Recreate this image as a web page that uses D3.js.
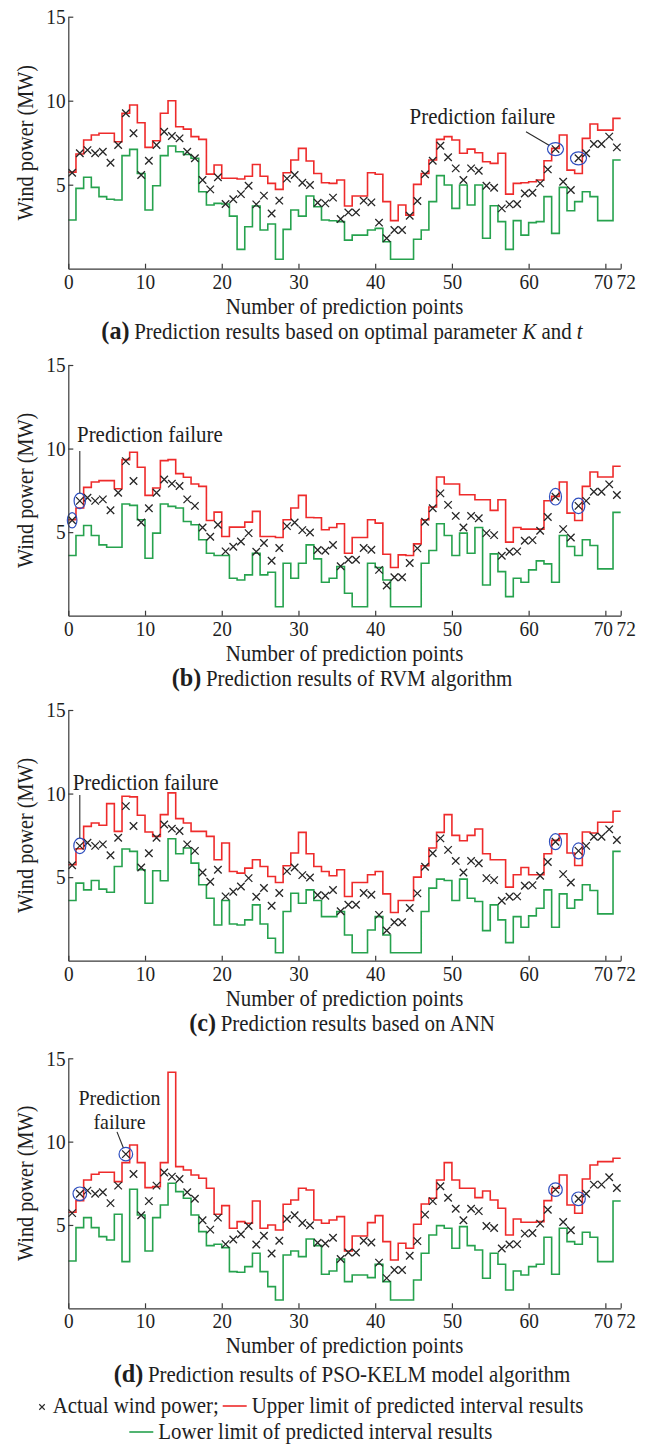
<!DOCTYPE html>
<html>
<head>
<meta charset="utf-8">
<script src="https://cdn.jsdelivr.net/npm/d3@7"></script>
<style>
  body { margin: 0; background: #fff; }
  svg { display: block; }
  text { font-family: "Liberation Serif", "Times New Roman", serif; fill: #1e1e1e; }
</style>
</head>
<body>
<svg id="chart" width="648" height="1445"></svg>
<script>
// actual wind power, one value per prediction point (same in all four panels)
const actualPower = [
  5.71, 6.87, 7.06, 6.87, 6.96, 6.31, 7.36, 9.25, 8.06, 5.58,
  6.43, 7.36, 8.15, 7.90, 7.76, 6.96, 6.57, 5.28, 4.72, 5.44,
  3.85, 4.13, 4.44, 4.94, 3.83, 4.35, 3.29, 4.05, 5.36, 5.58,
  5.12, 4.98, 3.93, 3.89, 4.23, 2.96, 3.35, 3.35, 4.05, 3.95,
  2.74, 1.81, 2.30, 2.30, 3.15, 4.03, 5.62, 6.43, 7.32, 6.63,
  5.97, 5.28, 5.97, 5.83, 4.94, 4.82, 3.59, 3.83, 3.85, 4.48,
  4.52, 5.08, 5.91, 7.12, 5.18, 4.68, 6.57, 6.87, 7.42, 7.42,
  7.86, 7.22
]

// (a) optimal K and t
const upperA = [
  5.75, 6.83, 7.66, 7.96, 8.06, 8.06, 7.56, 9.25, 9.74, 8.69,
  7.22, 7.62, 9.25, 10.0, 8.45, 8.31, 7.86, 7.70, 5.63, 6.17,
  5.38, 5.38, 5.34, 5.50, 6.20, 5.50, 5.08, 4.72, 5.71, 6.47,
  7.16, 6.41, 5.67, 5.12, 5.08, 5.28, 3.73, 4.33, 4.33, 5.71,
  5.62, 3.99, 2.86, 3.79, 3.19, 5.02, 5.67, 6.47, 7.70, 7.86,
  7.66, 6.87, 7.12, 6.90, 6.37, 6.27, 6.87, 4.44, 5.08, 5.12,
  5.18, 5.28, 6.43, 7.16, 7.96, 5.87, 5.67, 7.76, 8.61, 8.25,
  8.25, 8.95
]
const lowerA = [
  2.90, 4.78, 5.44, 4.84, 4.29, 4.13, 4.09, 6.73, 7.10, 5.67,
  3.49, 4.94, 6.73, 7.30, 6.96, 6.80, 6.57, 4.58, 3.79, 3.89,
  3.85, 3.13, 1.15, 2.50, 3.73, 2.30, 2.66, 0.56, 2.34, 3.49,
  3.13, 4.33, 3.69, 2.90, 2.85, 2.80, 1.70, 2.00, 2.00, 2.30,
  2.40, 1.60, 0.56, 0.56, 0.56, 1.75, 2.30, 3.99, 5.54, 4.98,
  3.59, 4.98, 3.79, 4.98, 1.81, 3.75, 2.80, 1.15, 2.86, 2.00,
  2.74, 2.80, 4.29, 2.10, 4.84, 3.45, 3.99, 4.58, 4.29, 2.86,
  2.86, 6.47
]

// (b) RVM
const upperB = [
  5.74, 6.44, 7.68, 8.00, 8.08, 8.08, 7.60, 9.34, 9.78, 8.88,
  7.20, 7.64, 9.28, 9.34, 8.50, 8.28, 7.88, 7.74, 5.70, 6.20,
  4.74, 5.30, 5.30, 5.60, 6.24, 4.74, 4.74, 4.68, 5.74, 6.44,
  7.20, 5.88, 5.86, 5.14, 5.28, 5.50, 3.74, 4.68, 4.68, 5.74,
  5.54, 3.68, 2.88, 3.64, 3.60, 4.30, 5.74, 6.50, 8.30, 7.88,
  7.88, 7.24, 7.24, 6.94, 6.94, 6.30, 6.94, 4.40, 5.28, 5.18,
  5.18, 5.18, 6.88, 7.14, 8.00, 6.14, 5.70, 7.74, 8.60, 8.30,
  8.30, 8.94
]
const lowerB = [
  3.60, 4.80, 5.40, 4.80, 4.24, 4.10, 4.10, 6.68, 6.60, 5.74,
  3.44, 4.94, 6.68, 6.54, 6.44, 5.64, 5.44, 4.54, 3.74, 3.60,
  3.60, 2.24, 2.14, 2.44, 3.74, 2.44, 2.60, 0.54, 3.14, 2.24,
  3.14, 4.24, 3.40, 2.00, 2.24, 2.94, 1.34, 0.54, 0.54, 3.14,
  2.88, 2.14, 0.54, 0.54, 0.54, 0.54, 3.14, 3.90, 5.50, 4.80,
  3.60, 4.94, 3.74, 5.28, 1.84, 3.70, 2.64, 1.14, 2.24, 2.00,
  2.74, 3.28, 3.10, 2.00, 4.80, 4.14, 3.60, 4.54, 4.20, 2.80,
  2.80, 6.18
]

// (c) ANN
const upperC = [
  5.74, 6.70, 8.04, 8.24, 8.10, 9.40, 7.74, 9.84, 9.80, 8.70,
  7.70, 7.44, 8.74, 10.04, 8.50, 8.24, 7.74, 7.74, 7.44, 6.04,
  7.04, 5.34, 5.24, 5.54, 6.04, 5.64, 5.04, 4.68, 5.68, 6.44,
  7.68, 6.40, 5.64, 5.34, 5.08, 5.44, 3.84, 4.68, 4.68, 5.14,
  5.34, 4.00, 2.88, 3.60, 3.60, 5.00, 5.68, 6.74, 7.68, 8.74,
  7.50, 7.18, 7.50, 7.88, 6.40, 6.04, 6.04, 4.40, 5.14, 5.58,
  5.14, 5.14, 6.40, 7.20, 7.60, 6.44, 5.70, 7.70, 7.64, 8.28,
  8.28, 8.94
]
const lowerC = [
  3.60, 4.64, 4.24, 4.80, 4.28, 4.10, 5.64, 6.68, 6.54, 5.44,
  3.44, 5.38, 4.78, 7.30, 6.40, 6.74, 5.84, 4.54, 3.74, 2.14,
  3.60, 2.20, 2.14, 2.44, 3.34, 2.20, 1.34, 0.48, 2.94, 4.04,
  3.44, 4.24, 3.60, 2.64, 2.64, 2.94, 1.54, 0.48, 0.48, 1.84,
  2.64, 1.54, 0.48, 0.48, 0.48, 0.48, 2.94, 4.34, 4.88, 4.80,
  3.60, 4.88, 3.74, 3.54, 1.80, 3.34, 2.44, 1.08, 2.64, 2.00,
  2.68, 3.14, 4.24, 2.00, 4.00, 3.14, 3.64, 4.54, 4.20, 2.80,
  2.80, 6.54
]

// (d) PSO-KELM
const upperD = [
  5.76, 6.46, 7.70, 8.04, 8.16, 8.16, 7.60, 8.74, 9.80, 8.74,
  7.24, 7.30, 8.74, 14.16, 8.50, 8.30, 8.00, 7.80, 7.20, 5.64,
  6.16, 4.80, 5.20, 5.10, 6.44, 4.80, 5.00, 4.70, 6.24, 6.50,
  7.20, 7.10, 5.30, 5.10, 5.30, 5.50, 3.44, 4.34, 4.34, 5.14,
  5.56, 4.00, 2.90, 3.90, 3.60, 5.04, 6.26, 6.60, 7.70, 8.74,
  7.70, 7.20, 7.20, 6.64, 7.04, 6.50, 6.00, 4.40, 5.36, 5.16,
  5.16, 5.20, 6.46, 7.20, 8.00, 6.20, 5.70, 7.76, 8.60, 8.80,
  8.80, 9.00
]
const lowerD = [
  2.84, 4.84, 5.44, 4.84, 4.30, 4.10, 5.64, 2.80, 7.14, 5.60,
  3.44, 5.44, 6.20, 7.50, 7.00, 6.60, 5.60, 4.60, 3.76, 3.84,
  3.64, 2.20, 2.16, 2.50, 3.30, 2.20, 1.30, 0.50, 3.20, 3.44,
  3.10, 4.16, 3.76, 2.04, 2.24, 2.96, 1.60, 2.00, 2.00, 1.84,
  2.64, 1.60, 0.50, 0.50, 0.50, 1.70, 3.30, 4.40, 4.96, 4.80,
  3.60, 4.90, 3.76, 3.50, 1.80, 3.30, 2.64, 1.10, 2.24, 2.00,
  2.50, 2.64, 4.26, 2.04, 4.80, 4.00, 3.84, 4.56, 4.26, 2.80,
  2.80, 6.44
]

// points flagged as prediction failures (index into actualPower)
const failA = [63, 66]
const failB = [0, 1, 63, 66]
const failC = [1, 63, 66]
const failD = [1, 7, 63, 66]

const xTicks = [0, 10, 20, 30, 40, 50, 60, 70, 72]
const yTicks = [5, 10, 15]

const captionLetters = ["(a)", "(b)", "(c)", "(d)"]
const captionA = [["Prediction results based on optimal parameter ", false], ["K", true], [" and ", false], ["t", true]]
const captionB = [["Prediction results of RVM algorithm", false]]
const captionC = [["Prediction results based on ANN", false]]
const captionD = [["Prediction results of PSO-KELM model algorithm", false]]

const RED = "#ee2b2b"
const GREEN = "#26a24e"
const BLUE = "#2f4fbf"

const svg = d3.select("#chart")
const x = d3.scaleLinear().domain([0, 72]).range([68.3, 620.7])

// layout of each panel (pixels)
const panels = [
  { top: 16.7, bottom: 268.7, upper: upperA, lower: lowerA, fail: failA,
    rings: [[8, 6.5], [8, 6.5]], caption: captionA, capDy: 70,
    note: { lines: ["Prediction failure"], size: 22.5, gap: 0, x: 482.5, y: 107.3, anchor: "middle", from: [526, 115], target: 63 } },
  { top: 365, bottom: 615.7, upper: upperB, lower: lowerB, fail: failB,
    rings: [[4.8, 7.7], [5.7, 7.7], [6, 8.3], [6.3, 7.7]], caption: captionB, capDy: 70,
    note: { lines: ["Prediction failure"], size: 22.5, gap: 0, x: 77, y: 77.3, anchor: "start", from: [x(1.5), 86], target: 1 } },
  { top: 710, bottom: 960.7, upper: upperC, lower: lowerC, fail: failC,
    rings: [[6, 7.7], [6, 8], [6, 8]], caption: captionC, capDy: 70,
    note: { lines: ["Prediction failure"], size: 22.5, gap: 0, x: 72.7, y: 80, anchor: "start", from: [x(1.5), 85], target: 1 } },
  { top: 1058.3, bottom: 1308.3, upper: upperD, lower: lowerD, fail: failD,
    rings: [[6.8, 6.8], [6.8, 6.8], [6.8, 6.8], [6.8, 6.8]], caption: captionD, capDy: 73.5,
    note: { lines: ["Prediction", "failure"], size: 21.5, gap: 24.2, x: 119.5, y: 46.6, anchor: "middle", from: [117, 73.6], target: 7 } }
]

const crossMark = {
  draw(ctx, size) {
    const r = Math.sqrt(size) / 2
    ctx.moveTo(-r, -r); ctx.lineTo(r, r)
    ctx.moveTo(-r, r); ctx.lineTo(r, -r)
  }
}

function label(g, str, px, py, size, anchor, sx) {
  return g.append("text")
    .attr("transform", `translate(${px},${py}) scale(${sx},1)`)
    .attr("text-anchor", anchor)
    .style("font-size", size + "px")
    .text(str)
}

panels.forEach((p, k) => {
  const g = svg.append("g")
  const y = d3.scaleLinear().domain([0, 15]).range([p.bottom, p.top])

  const step = d3.line()
    .x((d, i) => x(i))
    .y(d => y(d))
    .curve(d3.curveStepAfter)

  g.append("path")
    .attr("d", step(p.lower.concat(p.lower[p.lower.length - 1])))
    .attr("fill", "none").attr("stroke", GREEN).attr("stroke-width", 1.6)
  g.append("path")
    .attr("d", step(p.upper.concat(p.upper[p.upper.length - 1])))
    .attr("fill", "none").attr("stroke", RED).attr("stroke-width", 1.6)

  g.selectAll(".actual")
    .data(actualPower)
    .enter().append("path")
    .attr("transform", (d, i) => `translate(${x(i + 0.5)},${y(d)})`)
    .attr("d", d3.symbol(crossMark, 56))
    .attr("fill", "none").attr("stroke", "#262626").attr("stroke-width", 1.3)

  // failure rings
  g.selectAll(".ring")
    .data(p.fail)
    .enter().append("ellipse")
    .attr("cx", i => x(i + 0.5))
    .attr("cy", i => y(actualPower[i]))
    .attr("rx", (i, j) => p.rings[j][0])
    .attr("ry", (i, j) => p.rings[j][1])
    .attr("fill", "none").attr("stroke", BLUE).attr("stroke-width", 1.2)

  // annotation
  const n = p.note
  n.lines.forEach((s, j) => label(g, s, n.x, p.top + n.y + j * n.gap, n.size, n.anchor, 0.93))

  const ti = p.fail.indexOf(n.target)
  const cx = x(n.target + 0.5), cy = y(actualPower[n.target])
  const fx = n.from[0], fy = p.top + n.from[1]
  const dx = fx - cx, dy = fy - cy
  const t = 1 / Math.sqrt((dx / p.rings[ti][0]) ** 2 + (dy / p.rings[ti][1]) ** 2)
  g.append("line")
    .attr("x1", fx).attr("y1", fy)
    .attr("x2", cx + dx * t).attr("y2", cy + dy * t)
    .attr("stroke", "#2a2a2a").attr("stroke-width", 1.1)

  // axes
  const xAxis = g.append("g")
    .attr("transform", `translate(0,${p.bottom})`)
    .call(d3.axisBottom(x).tickValues(xTicks).tickSizeInner(-5).tickSizeOuter(0).tickPadding(5))
  const yAxis = g.append("g")
    .attr("transform", `translate(${x(0)},0)`)
    .call(d3.axisLeft(y).tickValues(yTicks).tickSizeInner(-5).tickSizeOuter(0).tickPadding(3))
  ;[xAxis, yAxis].forEach(a => {
    a.attr("font-family", null).attr("font-size", null).attr("color", "#3a3a3a")
    a.selectAll("path, line").attr("stroke-width", 1.2)
    a.selectAll("text").style("font-size", "21px").attr("fill", "#1e1e1e")
      .attr("transform", "scale(0.92,1)")
  })
  // the last two labels sit close together, as in the original
  xAxis.selectAll("text").attr("dx", d => d === 72 ? 5.5 : d === 70 ? -2.7 : 0)

  label(g, "Number of prediction points", (x(0) + x(72)) / 2, p.bottom + 45, 22.5, "middle", 0.93)

  g.append("text")
    .attr("transform", `translate(33,${(p.top + p.bottom) / 2}) rotate(-90) scale(0.9,1)`)
    .attr("text-anchor", "middle")
    .style("font-size", "22.5px")
    .text("Wind power (MW)")

  const cap = g.append("text")
    .attr("transform", `translate(342,${p.bottom + p.capDy}) scale(0.93,1)`)
    .attr("text-anchor", "middle")
    .style("font-size", "22.5px")
  cap.append("tspan").style("font-weight", "bold").style("font-size", "26px").text(captionLetters[k])
  p.caption.forEach(([s, it], j) => {
    const ts = cap.append("tspan").text(s)
    if (j === 0) ts.attr("dx", 5)
    if (it) ts.style("font-style", "italic")
  })
})

// legend
const lg = svg.append("g")
lg.append("path")
  .attr("transform", "translate(42,1407)")
  .attr("d", d3.symbol(crossMark, 30))
  .attr("fill", "none").attr("stroke", "#2a2a2a").attr("stroke-width", 1.1)
label(lg, "Actual wind power;", 52.7, 1413, 22.5, "start", 0.93)
lg.append("line").attr("x1", 222.7).attr("x2", 246.7).attr("y1", 1406).attr("y2", 1406)
  .attr("stroke", RED).attr("stroke-width", 1.6)
label(lg, "Upper limit of predicted interval results", 251.7, 1413, 22.5, "start", 0.93)
lg.append("line").attr("x1", 129.3).attr("x2", 153.3).attr("y1", 1432).attr("y2", 1432)
  .attr("stroke", GREEN).attr("stroke-width", 1.6)
label(lg, "Lower limit of predicted interval results", 158.3, 1439, 22.5, "start", 0.93)
</script>
</body>
</html>
